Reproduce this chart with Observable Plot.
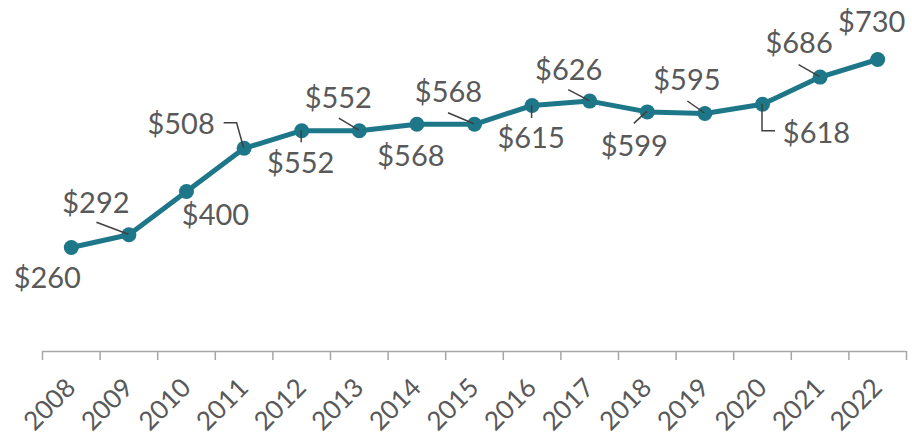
<!DOCTYPE html>
<html>
<head>
<meta charset="utf-8">
<script src="https://cdn.jsdelivr.net/npm/d3@7"></script>
<script src="https://cdn.jsdelivr.net/npm/@observablehq/plot@0.6"></script>
<style>
  html, body { margin: 0; padding: 0; background: #fff; }
  #chart { width: 912px; height: 437px; overflow: hidden; }
</style>
</head>
<body>
<div id="chart"></div>
<script>
// ---- data ----
const years = [2008, 2009, 2010, 2011, 2012, 2013, 2014, 2015, 2016, 2017, 2018, 2019, 2020, 2021, 2022];
const values = [260, 292, 400, 508, 552, 552, 568, 568, 615, 626, 599, 595, 618, 686, 730];
const yearLabels = ["2008", "2009", "2010", "2011", "2012", "2013", "2014", "2015", "2016", "2017", "2018", "2019", "2020", "2021", "2022"];
const valueLabels = ["$260", "$292", "$400", "$508", "$552", "$552", "$568", "$568", "$615", "$626", "$599", "$595", "$618", "$686", "$730"];

// ---- layout: label offsets (px, from the point) and leader lines ----
const labelOffsets = [[-24, 31], [-33, -31], [29, 24], [-63, -24], [-1, 33], [-21, -32], [-6, 32], [-26, -32], [-1, 33], [-21, -30], [-13, 35], [-18, -33], [54, 29], [-21, -33], [-6, -37]];
const leaders = [
  {i: 1, pts: [[-32, -12], [0, 0]]},
  {i: 3, pts: [[-20, -25], [-7, -25], [0, 0]]},
  {i: 4, pts: [[0, 0], [0, 12]]},
  {i: 5, pts: [[-20, -12], [0, 0]]},
  {i: 7, pts: [[-26, -11], [0, 0]]},
  {i: 8, pts: [[0, 0], [0, 13]]},
  {i: 9, pts: [[-21, -11], [0, 0]]},
  {i: 10, pts: [[-13, 12], [0, 0]]},
  {i: 11, pts: [[-17, -12], [0, 0]]},
  {i: 12, pts: [[0, 0], [0, 27], [13, 27]]},
  {i: 13, pts: [[-21, -12], [0, 0]]}
];

const data = years.map((y, i) => ({year: y, value: values[i], label: valueLabels[i]}));
const boundaries = [years[0] - 0.5, ...years.map(y => y + 0.5)];

const teal = "#1e7789";
const textColor = "#595959";
const axisColor = "#a6a6a6";

const labelMarks = data.map((d, i) => Plot.text([d], {
  x: "year", y: "value", text: "label",
  dx: labelOffsets[i][0], dy: labelOffsets[i][1],
  fill: textColor, fontSize: 29
}));

const leaderMark = (index, scales) => {
  const g = d3.create("svg:g").attr("fill", "none").attr("stroke", "#404040").attr("stroke-width", 1.5);
  for (const l of leaders) {
    const px = scales.x(years[l.i]);
    const py = scales.y(values[l.i]);
    g.append("path").attr("d", d3.line()(l.pts.map(([a, b]) => [px + a, py + b])));
  }
  return g.node();
};

const chart = Plot.plot({
  width: 912,
  height: 437,
  marginLeft: 42,
  marginRight: 6,
  marginTop: 31,
  marginBottom: 86,
  style: {fontFamily: "Lato, 'Open Sans', sans-serif", background: "#fff"},
  x: {type: "linear", domain: [years[0] - 0.5, years[years.length - 1] + 0.5], axis: null},
  y: {domain: [0, 800], axis: null},
  marks: [
    Plot.ruleY([0], {stroke: axisColor, strokeWidth: 1.5}),
    Plot.axisX(boundaries, {tickSize: 9, tickFormat: () => "", stroke: axisColor, strokeWidth: 1.5, label: null}),
    Plot.axisX(years, {tickSize: 0, tickPadding: 32, tickRotate: -45, fontSize: 26, fill: textColor, label: null,
      tickFormat: (d) => yearLabels[years.indexOf(d)]}),
    Plot.line(data, {x: "year", y: "value", stroke: teal, strokeWidth: 5}),
    Plot.dot(data, {x: "year", y: "value", r: 7.5, fill: teal}),
    leaderMark,
    ...labelMarks
  ]
});
document.getElementById("chart").appendChild(chart);
</script>
</body>
</html>
